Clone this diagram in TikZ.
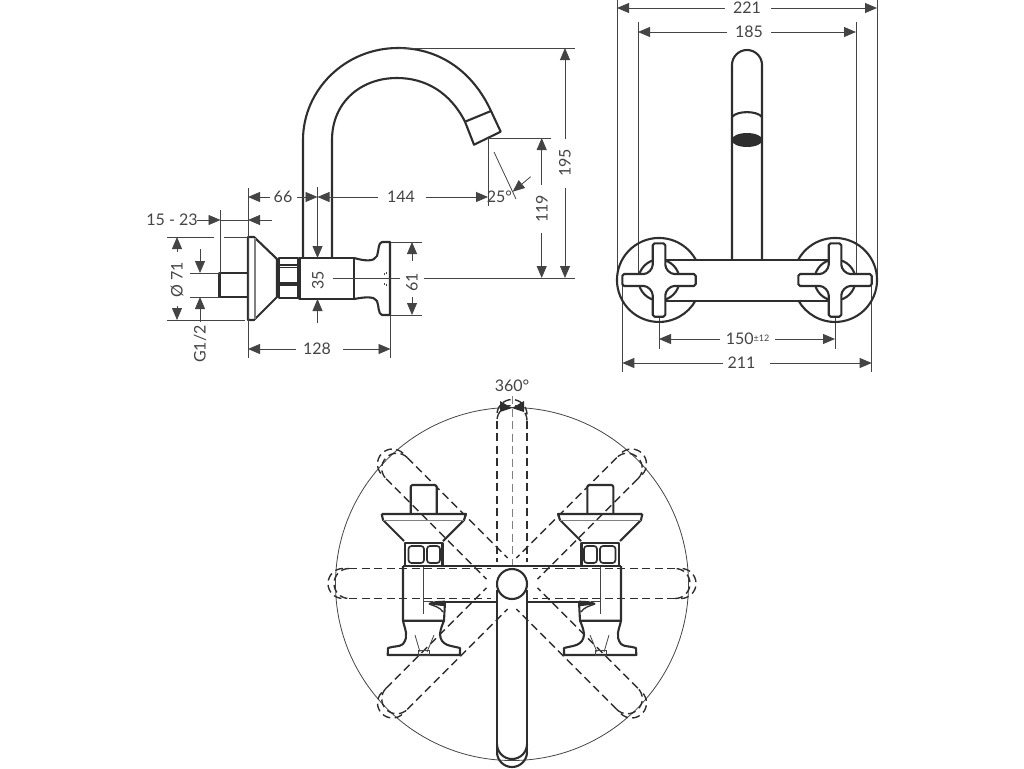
\documentclass[tikz,border=0pt]{standalone}
\usepackage{fontspec}
\setmainfont{Lato}
\usetikzlibrary{arrows.meta}
\definecolor{ink}{HTML}{2E2E2E}
\definecolor{dimc}{HTML}{444444}
\tikzset{
 thick line/.style={draw=ink,line width=2.1pt,line join=round},
 mid line/.style={draw=ink,line width=1.3pt,line join=round},
 thin line/.style={draw=dimc,line width=.8pt},
 dash line/.style={draw=ink,line width=1.4pt,dash pattern=on 8pt off 4.5pt},
 centre dash/.style={draw=gray,line width=1pt,dash pattern=on 8pt off 4.5pt},
 dimension/.style={draw=dimc,line width=.8pt,-{Triangle[length=12pt,width=10pt]},shorten >=0pt},
 label text/.style={font=\fontsize{16}{17}\selectfont,text=dimc,inner sep=0pt},
}
\newcommand{\assembly}{%
 \draw[thick line,rounded corners=2pt] (410.7,513)--(410.7,485)--(436.7,485)--(436.7,513);
 \draw[thick line] (381.7,514)--(466,514)--(464,520)--(443,541) (381.7,514)--(383,520)--(404,541);
 \draw[thin line,gray] (383,520)--(464,520);
 \draw[thick line,line width=2.8pt] (405,565)--(405,543)--(442.7,543)--(442.7,565);
 \draw[thick line,line width=1.7pt,rounded corners=3pt] (408.5,546) rectangle (424,563);
 \draw[thick line,line width=1.7pt,rounded corners=3pt] (427,546) rectangle (440,563);
 \draw[thick line] (445,601.7)..controls (438,602) and (433,602) .. (429,604);
 \draw[mid line] (429,604)..controls (434,606) and (440,607) .. (443,612);
 \fill[ink] (429,604)..controls (435,601) and (440,601) .. (445,601)--(445,606)..controls (440,606) and (434,605) .. (429,604)--cycle;
 \draw[thick line] (403,566)--(403,620.7)--(444,620.7)--(445,602);
 \draw[thick line] (403,620.7)..controls (405,630) and (409,636) .. (403,644)..controls (400,647) and (393,646) .. (388,648)--(387.7,655)--(460,655)--(460,648)..controls (452,646) and (448,646) .. (444,643)..controls (437,637) and (441,628) .. (444,620.7);
 \draw[thin line] (423.6,566)--(423.6,614) (424,601)--(433,601);
 \draw[thin line] (415,635)--(420,652) (434,635)--(427,652);
 \draw[thin line] (418,650) rectangle (429,655);
}
\newcommand{\spoutarm}[1]{%
 \begin{scope}[shift={(512,583.5)},rotate=#1]
  \draw[dash line] (-15,163)--(-15,21.2) (15,163)--(15,21.2);
  \draw[dash line] (-15,163) arc[start angle=180,end angle=0,radius=15];
  \draw[dash line] (-15,169) arc[start angle=180,end angle=0,radius=15];
 \end{scope}}
\newcommand{\crosshandle}[2]{%
 \begin{scope}[shift={(#1,#2)}]
  \draw[thick line,fill=white,rounded corners=1.8pt] (-6.3,-17)--(-6.3,-36.7)--(6.3,-36.7)--(6.3,-17)
   ..controls (6.3,-11) and (11,-6) .. (17,-6)--(36.7,-6)--(36.7,6)--(17,6)
   ..controls (11,6) and (6.3,11) .. (6.3,17)--(6.3,36.7)--(-6.3,36.7)--(-6.3,17)
   ..controls (-6.3,11) and (-11,6) .. (-17,6)--(-36.7,6)--(-36.7,-6)--(-17,-6)
   ..controls (-11,-6) and (-6.3,-11) .. (-6.3,-17)--cycle;
 \end{scope}}
\begin{document}
\begin{tikzpicture}[x=1pt,y=-1pt]
\useasboundingbox (0,0) rectangle (1024,768);
% ---- side view
\draw[thick line] (219.5,273) rectangle (248,297);
\draw[thick line] (248,320)--(248,237)--(254,237)--(277,259)--(277,297)--(254,320)--cycle;
\draw[thin line,gray,line width=1.2pt] (255,238)--(255,319);
\draw[thick line] (279,258)--(298,258)--(298,298)--(279,298)--cycle;
\draw[mid line] (279,265)--(298,265) (279,285)--(298,285);
\draw[mid line] (280,267.5)--(297,267.5) (280,283)--(297,283);
\draw[thick line] (299.5,258) rectangle (354,299);
\draw[thick line] (354,258)..controls (365,261) and (374,262) .. (377,256)..controls (379,250) and (378,243) .. (382,242)--(390,242)--(390,315)--(382,315)..controls (378,314) and (379,306) .. (377,301)..controls (374,296) and (365,297) .. (354,299);
\draw[thin line] (384,273)--(384,275) (386,272)--(386,274) (384,283)--(384,285) (386,284)--(386,286);
\draw[thick line] (303,258)--(303,140)..controls (303,90) and (345,48) .. (398,48)..controls (440,48) and (473,72) .. (491,111)--(500.7,131.7)--(474,144.7)--(465,121.7)..controls (450,92) and (425,78) .. (397,78)..controls (360,78) and (332,103) .. (332,140)--(332,258);
\draw[thick line] (465,121.7)--(491,111);
% side view dimensions
\draw[thin line] (248,188)--(248,358);
\draw[thin line] (398,48)--(575,48);
\draw[thin line] (333,278)--(400,278) (424,278)--(575,278);
\draw[thin line] (487,138)--(551,138) (488,138)--(488,205.5);
\draw[thin line] (220.5,210)--(220.5,273);
\draw[thin line] (167,237)--(214,237) (224,237)--(248,237) (167,320)--(245,320);
\draw[thin line] (190,273)--(220,273) (190,297)--(220,297);
\draw[thin line] (390.5,242)--(422,242) (390.5,315)--(422,315) (390.5,315)--(390.5,358);
\draw[thin line] (317.5,187)--(317.5,200);
\draw[thin line] (220.5,220)--(248,220);
\node[label text,rotate=90] (d195) at (565,163) {195};
\draw[dimension] (565,139)--(565,48);
\draw[dimension] (565,188)--(565,278);
\node[label text,rotate=90] (d119) at (541.7,209) {119};
\draw[dimension] (541.7,185)--(541.7,138);
\draw[dimension] (541.7,233)--(541.7,278);
\node[label text] (d144) at (401,197) {144};
\draw[dimension] (378,197)--(317.5,197);
\draw[dimension] (426,197)--(488,197);
\node[label text] (d66) at (283,197) {66};
\draw[dimension] (270,197)--(248,197);
\draw[dimension] (297,197)--(317.5,197);
\node[label text] (d1523) at (172,220) {15 - 23};
\draw[dimension] (197,220)--(220.5,220);
\draw[dimension] (272,220)--(248,220);
\node[label text,rotate=90] (d71) at (177,280) {Ø 71};
\draw[dimension] (177,252)--(177,237);
\draw[dimension] (177,306)--(177,320);
\node[label text,rotate=90] (dg) at (200,344) {G1/2};
\draw[dimension] (200,249)--(200,273);
\draw[dimension] (200,322)--(200,297);
\node[label text] (d128) at (317,349) {128};
\draw[dimension] (296,349)--(248,349);
\draw[dimension] (343,349)--(390.5,349);
\node[label text,rotate=90] (d61) at (412,282) {61};
\draw[dimension] (412,261)--(412,242);
\draw[dimension] (412,297)--(412,315);
\node[label text,rotate=90] (d35) at (318,280) {35};
\draw[dimension] (317.5,200)--(317.5,258);
\draw[dimension] (317.5,323)--(317.5,299);
\draw[thin line] (494,152)--(516,199);
\draw[dimension] (530.7,176.7)--(512.7,191.7);
\node[label text] (d25) at (499.5,197) {25°};
% ---- front view
\draw[thin line] (617,0)--(617,280) (877,0)--(877,280);
\draw[thin line] (638,22)--(638,278) (856,22)--(856,278);
\draw[thin line] (622.3,281)--(622.3,372) (871.7,281)--(871.7,372);
\draw[thin line] (659,317)--(659,349) (835,317)--(835,349);
\draw[thick line] (695.7,259.6) arc[start angle=-29,delta angle=-302,radius=42];
\draw[thick line] (798.3,259.6) arc[start angle=-151,delta angle=302,radius=42];
\draw[thick line] (659,280) circle[radius=20.5];
\draw[thick line] (835,280) circle[radius=20.5];
\draw[thick line] (665,260)--(829,260) (665,301)--(829,301);
\crosshandle{659}{280}
\crosshandle{835}{280}
\draw[thick line] (732,260)--(732,65) arc[start angle=180,end angle=360,radius=15]--(762,260);
\draw[thick line] (732,117)..controls (737,110.5) and (757,110.5) .. (762,117);
\fill[ink] (747,140) ellipse[x radius=15.5,y radius=7];
\node[label text] (d221) at (747,8) {221};
\draw[dimension] (725,8)--(617,8);
\draw[dimension] (771,8)--(877,8);
\node[label text] (d185) at (749,32) {185};
\draw[dimension] (727,32)--(638,32);
\draw[dimension] (771,32)--(856,32);
\node[label text] (d150) at (747.5,339) {150\raisebox{3.5pt}{\fontsize{9}{9}\selectfont ±12}};
\draw[dimension] (720,339)--(659,339);
\draw[dimension] (775,339)--(835,339);
\node[label text] (d211) at (741.5,363) {211};
\draw[dimension] (723,363)--(622.3,363);
\draw[dimension] (770,363)--(871.7,363);
% ---- plan view
\draw[thin line] (512,584) circle[radius=176.5];
\spoutarm{180}
\spoutarm{90}
\spoutarm{-90}
\spoutarm{45}
\spoutarm{-45}
\spoutarm{135}
\spoutarm{-135}
\draw[centre dash] (512,396)--(512,584);
\assembly
\begin{scope}[shift={(1024,0)},xscale=-1]
\assembly
\end{scope}
\draw[thick line] (403,566)--(621,566);
\draw[thick line] (445,601.7)--(497,601.7) (527,601.7)--(579,601.7);
\draw[thick line,fill=white] (512,584) circle[radius=15];
\draw[thick line] (497,590)--(497,752) (527,590)--(527,752);
\draw[thick line] (497,744) arc[start angle=180,end angle=0,radius=15];
\draw[thick line] (497,752) arc[start angle=180,end angle=0,radius=15];
\fill[ink] (500,401)--(512,408)--(500,412)--cycle (524,401)--(512,408)--(524,412)--cycle;
\node[label text] (d360) at (512,386) {360°};
\end{tikzpicture}
\end{document}
